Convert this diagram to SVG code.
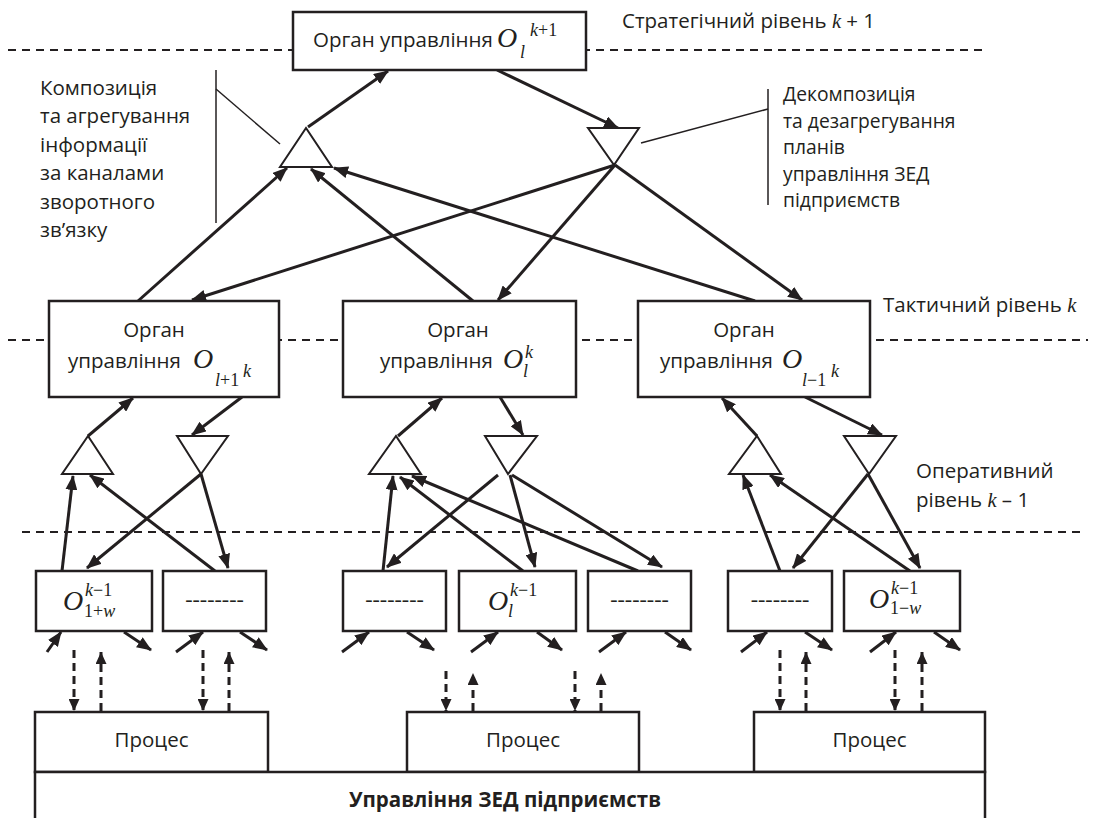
<svg xmlns="http://www.w3.org/2000/svg" width="1093" height="818" viewBox="0 0 1093 818">
<defs>
<style>
.bg{fill:#fff}
.box{fill:#fff;stroke:#231f20;stroke-width:2.5}
.tri{fill:#fff;stroke:#231f20;stroke-width:2}
.lvl{fill:none;stroke:#231f20;stroke-width:2;stroke-dasharray:8 6}
.arr{fill:none;stroke:#231f20;stroke-width:3;marker-end:url(#ah)}
.dsh{fill:none;stroke:#231f20;stroke-width:3;stroke-dasharray:8 5;marker-end:url(#ah2)}
.lead{fill:none;stroke:#231f20;stroke-width:1.5}
.t{font-family:"Open Sans","Noto Sans","Liberation Sans",sans-serif;font-size:20.5px;fill:#231f20}
.rl{font-size:19.3px}
.tc{text-anchor:middle}
.b{font-weight:bold}
.m{font-family:"Liberation Serif","DejaVu Serif",serif;font-style:italic;fill:#231f20}
.mo{font-size:28px}
.ms{font-size:18px}
.up{font-style:normal}
.dd{font-family:"Liberation Serif",serif;font-size:22px;fill:#231f20;text-anchor:middle}
</style>
<marker id="ah" viewBox="0 0 15 12" refX="14" refY="6" markerWidth="15" markerHeight="12" markerUnits="userSpaceOnUse" orient="auto"><path d="M0,0 L15,6 L0,12 z" fill="#231f20"/></marker>
<marker id="ah2" viewBox="0 0 12 11" refX="12" refY="5.5" markerWidth="12" markerHeight="11" markerUnits="userSpaceOnUse" orient="auto"><path d="M0,0 L12,5.5 L0,11 z" fill="#231f20"/></marker>
</defs>
<rect class="bg" x="0" y="0" width="1093" height="818"/>

<g id="levels">
<line class="lvl" x1="8" y1="50" x2="988" y2="50"/>
<line class="lvl" x1="8" y1="340" x2="1088" y2="340"/>
<line class="lvl" x1="22" y1="532" x2="1082" y2="532"/>
</g>

<g id="connectors">
<line class="arr" x1="308" y1="127" x2="388" y2="71"/>
<line class="arr" x1="497" y1="70" x2="618" y2="128"/>
<line class="arr" x1="138" y1="301" x2="287" y2="168"/>
<line class="arr" x1="615" y1="165" x2="192" y2="300"/>
<line class="arr" x1="473" y1="301" x2="311" y2="169"/>
<line class="arr" x1="615" y1="165" x2="498" y2="300"/>
<line class="arr" x1="755" y1="301" x2="334" y2="168"/>
<line class="arr" x1="615" y1="165" x2="802" y2="300"/>

<line class="arr" x1="88" y1="436" x2="133" y2="398"/>
<line class="arr" x1="242" y1="397" x2="192" y2="435"/>
<line class="arr" x1="201" y1="474" x2="87" y2="568"/>
<line class="arr" x1="201" y1="474" x2="228" y2="568"/>
<line class="arr" x1="62" y1="571" x2="73" y2="476"/>
<line class="arr" x1="215" y1="571" x2="90" y2="475"/>

<line class="arr" x1="398" y1="436" x2="442" y2="398"/>
<line class="arr" x1="500" y1="397" x2="523" y2="435"/>
<line class="arr" x1="498" y1="475" x2="387" y2="567"/>
<line class="arr" x1="510" y1="475" x2="535" y2="567"/>
<line class="arr" x1="512" y1="475" x2="662" y2="567"/>
<line class="arr" x1="383" y1="571" x2="393" y2="476"/>
<line class="arr" x1="523" y1="571" x2="400" y2="477"/>
<line class="arr" x1="638" y1="571" x2="412" y2="476"/>

<line class="arr" x1="757" y1="436" x2="722" y2="398"/>
<line class="arr" x1="805" y1="397" x2="882" y2="435"/>
<line class="arr" x1="868" y1="474" x2="793" y2="568"/>
<line class="arr" x1="868" y1="474" x2="920" y2="568"/>
<line class="arr" x1="780" y1="571" x2="743" y2="475"/>
<line class="arr" x1="910" y1="571" x2="770" y2="475"/>

<line class="arr" x1="47" y1="652" x2="61" y2="632"/>
<line class="arr" x1="124" y1="632" x2="151" y2="650"/>
<line class="arr" x1="176" y1="652" x2="203" y2="632"/>
<line class="arr" x1="240" y1="632" x2="267" y2="650"/>
<line class="arr" x1="342" y1="652" x2="369" y2="632"/>
<line class="arr" x1="407" y1="632" x2="434" y2="650"/>
<line class="arr" x1="471" y1="652" x2="498" y2="632"/>
<line class="arr" x1="537" y1="632" x2="562" y2="650"/>
<line class="arr" x1="599" y1="652" x2="626" y2="632"/>
<line class="arr" x1="665" y1="632" x2="691" y2="650"/>
<line class="arr" x1="741" y1="652" x2="767" y2="632"/>
<line class="arr" x1="805" y1="632" x2="832" y2="650"/>
<line class="arr" x1="870" y1="652" x2="896" y2="632"/>
<line class="arr" x1="934" y1="632" x2="960" y2="650"/>

<line class="dsh" x1="74" y1="650" x2="74" y2="711"/>
<line class="dsh" x1="101" y1="711" x2="101" y2="652"/>
<line class="dsh" x1="203" y1="650" x2="203" y2="711"/>
<line class="dsh" x1="229" y1="711" x2="229" y2="652"/>
<line class="dsh" x1="446" y1="671" x2="446" y2="711"/>
<line class="dsh" x1="473" y1="711" x2="473" y2="673"/>
<line class="dsh" x1="575" y1="671" x2="575" y2="711"/>
<line class="dsh" x1="601" y1="711" x2="601" y2="673"/>
<line class="dsh" x1="780" y1="650" x2="780" y2="711"/>
<line class="dsh" x1="806" y1="711" x2="806" y2="652"/>
<line class="dsh" x1="895" y1="650" x2="895" y2="711"/>
<line class="dsh" x1="922" y1="711" x2="922" y2="652"/>
</g>

<g id="leaders">
<line class="lead" x1="216" y1="70" x2="216" y2="223"/>
<line class="lead" x1="216" y1="89" x2="280" y2="144"/>
<line class="lead" x1="768" y1="89" x2="768" y2="205"/>
<line class="lead" x1="768" y1="109" x2="641" y2="143"/>
</g>

<g id="triangles">
<polygon class="tri" points="280,167 332,167 306,128"/>
<polygon class="tri" points="588,128 639,128 614,165"/>
<polygon class="tri" points="62,474 113,474 88,436"/>
<polygon class="tri" points="177,436 228,436 201,474"/>
<polygon class="tri" points="369,474 421,474 396,436"/>
<polygon class="tri" points="485,436 537,436 508,474"/>
<polygon class="tri" points="729,474 781,474 757,436"/>
<polygon class="tri" points="844,436 896,436 869,474"/>
</g>

<g id="node-top">
<rect class="box" x="293" y="12" width="293" height="58"/>
<text class="t" x="313" y="47">Орган управління</text>
<text class="m"><tspan class="mo" x="497" y="47">O</tspan><tspan class="ms" x="520" y="58">l</tspan><tspan class="ms" x="530" y="36">k</tspan><tspan class="ms up">+1</tspan></text>
</g>

<g id="node-mid-left">
<rect class="box" x="49" y="301" width="230" height="96"/>
<text class="t tc" x="154" y="337">Орган</text>
<text class="t" x="68" y="368">управління</text>
<text class="m"><tspan class="mo" x="193" y="368">O</tspan><tspan class="ms" x="215" y="386">l</tspan><tspan class="ms up">+1</tspan><tspan class="ms" x="243" y="377">k</tspan></text>
</g>

<g id="node-mid-center">
<rect class="box" x="343" y="301" width="233" height="96"/>
<text class="t tc" x="458" y="337">Орган</text>
<text class="t" x="380" y="368">управління</text>
<text class="m"><tspan class="mo" x="503" y="368">O</tspan><tspan class="ms" x="523" y="377">l</tspan><tspan class="ms" x="525" y="358">k</tspan></text>
</g>

<g id="node-mid-right">
<rect class="box" x="638" y="301" width="232" height="96"/>
<text class="t tc" x="744" y="337">Орган</text>
<text class="t" x="660" y="368">управління</text>
<text class="m"><tspan class="mo" x="782" y="368">O</tspan><tspan class="ms" x="802" y="386">l</tspan><tspan class="ms up">−1</tspan><tspan class="ms" x="831" y="377">k</tspan></text>
</g>

<g id="node-b1">
<rect class="box" x="36" y="571" width="116" height="60"/>
<text class="m"><tspan class="mo" x="63" y="610">O</tspan><tspan class="ms" x="85" y="596">k</tspan><tspan class="ms up">−1</tspan><tspan class="ms up" x="84" y="617">1+</tspan><tspan class="ms">w</tspan></text>
</g>
<g id="node-b2">
<rect class="box" x="163" y="571" width="103" height="60"/>
<text class="dd" x="214.5" y="606">--------</text>
</g>
<g id="node-b3">
<rect class="box" x="343" y="571" width="103" height="60"/>
<text class="dd" x="394.5" y="606">--------</text>
</g>
<g id="node-b4">
<rect class="box" x="459" y="571" width="117" height="60"/>
<text class="m"><tspan class="mo" x="488" y="610">O</tspan><tspan class="ms" x="510" y="596">k</tspan><tspan class="ms up">−1</tspan><tspan class="ms" x="508" y="617">l</tspan></text>
</g>
<g id="node-b5">
<rect class="box" x="588" y="571" width="103" height="60"/>
<text class="dd" x="639.5" y="606">--------</text>
</g>
<g id="node-b6">
<rect class="box" x="728" y="571" width="104" height="60"/>
<text class="dd" x="780" y="606">--------</text>
</g>
<g id="node-b7">
<rect class="box" x="844" y="571" width="116" height="60"/>
<text class="m"><tspan class="mo" x="869" y="608">O</tspan><tspan class="ms" x="891" y="594">k</tspan><tspan class="ms up">−1</tspan><tspan class="ms up" x="890" y="614">1−</tspan><tspan class="ms">w</tspan></text>
</g>

<g id="node-proc1">
<rect class="box" x="35" y="712" width="233" height="60"/>
<text class="t tc" x="151.5" y="747">Процес</text>
</g>
<g id="node-proc2">
<rect class="box" x="407" y="712" width="232" height="60"/>
<text class="t tc" x="523" y="747">Процес</text>
</g>
<g id="node-proc3">
<rect class="box" x="754" y="712" width="231" height="60"/>
<text class="t tc" x="869.5" y="747">Процес</text>
</g>
<g id="node-base">
<rect class="box" x="35" y="772" width="950" height="70"/>
<text class="t tc b" x="505" y="807">Управління ЗЕД підприємств</text>
</g>

<g id="labels">
<text class="t" x="622" y="28">Стратегічний рівень <tspan class="m">k</tspan> + 1</text>
<text class="t" x="883" y="312">Тактичний рівень <tspan class="m">k</tspan></text>
<text class="t" x="916" y="478">Оперативний</text>
<text class="t" x="916" y="507">рівень <tspan class="m">k</tspan> – 1</text>
<text class="t" x="40" y="95">Композиція</text>
<text class="t" x="40" y="123">та агрегування</text>
<text class="t" x="40" y="152">інформації</text>
<text class="t" x="40" y="180">за каналами</text>
<text class="t" x="40" y="209">зворотного</text>
<text class="t" x="40" y="237">зв’язку</text>
<text class="t rl" x="783" y="101">Декомпозиція</text>
<text class="t rl" x="783" y="127.5">та дезагрегування</text>
<text class="t rl" x="783" y="154">планів</text>
<text class="t rl" x="783" y="180.5">управління ЗЕД</text>
<text class="t rl" x="783" y="207">підприємств</text>
</g>
</svg>
